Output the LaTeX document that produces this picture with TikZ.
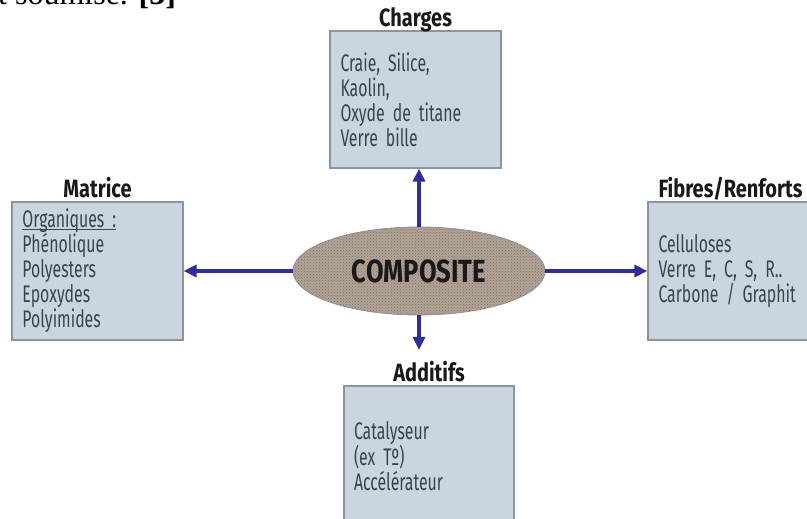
\documentclass[tikz,border=0pt]{standalone}
\usepackage{fontspec}
\setmainfont{Liberation Serif}
\newfontfamily\condfont[FakeStretch=0.66, WordSpace=0.55]{Fira Sans}
\newfontfamily\condtitre[FakeStretch=0.80]{Fira Sans Bold}
\usepackage{tikz}
\usetikzlibrary{arrows.meta,patterns,shapes.geometric}
\definecolor{boxfill}{HTML}{C9D5E1}
\definecolor{boxline}{HTML}{8C949C}
\definecolor{boxtext}{HTML}{3A4350}
\definecolor{arrowblue}{HTML}{2E2E9A}
\definecolor{granite}{HTML}{B2A395}
\newcommand\souligne[1]{\setbox0\hbox{#1}\rlap{\rule[-2.5pt]{\wd0}{0.9pt}}#1}

\begin{document}
\begin{tikzpicture}[x=1pt, y=1pt,
	boite/.style={draw=boxline, line width=1.2pt, fill=boxfill, minimum width=171pt, minimum height=138pt, text width=150pt, align=left, inner sep=0pt, text=boxtext, font=\condfont\fontsize{24}{25}\selectfont},
	titre/.style={anchor=base, inner sep=0pt, text=black!90, font=\condtitre\fontsize{25}{26}\selectfont},
	fleche/.style={-{Triangle[length=13pt, width=12pt]}, line width=3.2pt, draw=arrowblue}]
			%%%%% START %%%%%
			\useasboundingbox (0, 0) rectangle (807, 519);
			\fill[white] (0, 0) rectangle (807, 519);
			
			% bout de texte coupe en haut
			\node[anchor=base west, inner sep=0pt, font=\fontsize{32}{36}\selectfont] (source) at (-2, 514) {t soumise. \textbf{[3]}};
			
			\node[boite, minimum height=137pt] (charges) at (415.5, 419.5) {Craie, Silice,\\Kaolin,\\Oxyde de titane\\Verre bille};
			\node[titre] (chargesT) at ([yshift=4pt]charges.north) {Charges};
			
			\node[boite] (matrice) at (97.5, 248) {\souligne{Organiques :}\\Phénolique\\Polyesters\\Epoxydes\\Polyimides};
			\node[titre] (matriceT) at ([yshift=4pt]matrice.north) {Matrice};
			
			\node[boite] (fibres) at (733.5, 248) {Celluloses\\Verre E, C, S, R..\\Carbone / Graphit};
			\node[titre] (fibresT) at ([xshift=-3pt, yshift=4pt]fibres.north) {Fibres/Renforts};
			
			\node[boite, minimum width=170pt, minimum height=140pt] (additifs) at (429, 63) {Catalyseur\\(ex Tº)\\Accélérateur};
			\node[titre] (additifsT) at ([yshift=4pt]additifs.north) {Additifs};
			
			\node[ellipse, draw=boxline, line width=0.8pt, fill=granite, postaction={pattern=crosshatch dots, pattern color=granite!70!black}, minimum width=252pt, minimum height=88pt, inner sep=0pt, text=black!90, font=\condtitre\fontsize{32}{34}\selectfont] (compo) at (419, 248) {COMPOSITE};
			
			\draw[fleche] (compo.north) -- (compo.north |- charges.south);
			\draw[fleche] (compo.west) -- (compo.west -| matrice.east);
			\draw[fleche] (compo.east) -- (compo.east -| fibres.west);
			\draw[fleche, shorten >=11pt] (compo.south) -- (compo.south |- additifsT.north);
			%%%%% END %%%%%
		\end{tikzpicture}
\end{document}
